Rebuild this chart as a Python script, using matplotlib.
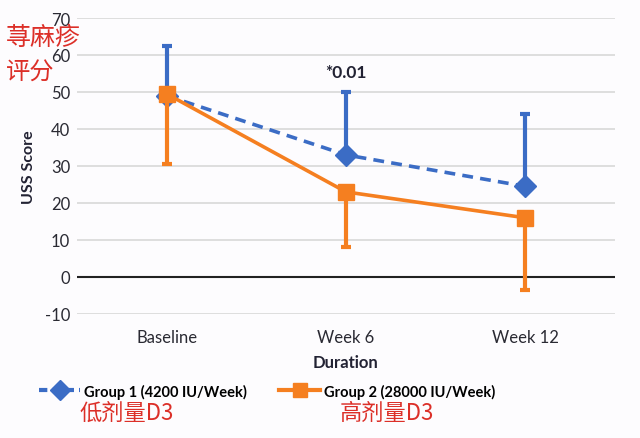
import matplotlib.pyplot as plt
from matplotlib.lines import Line2D

# data
durations = ['Baseline', 'Week 6', 'Week 12']
group1 = [49, 33, 24.5]
group1_upper = [62.5, 50, 44]
group2 = [49.5, 23, 16]
group2_lower = [30.5, 8, -3.5]
yticks = [-10, 0, 10, 20, 30, 40, 50, 60, 70]

blue = '#3b6cc5'
orange = '#f57f20'
red = '#dc2f28'
bg = '#fdfcfe'

plt.rcParams['font.family'] = ['Lato', 'DejaVu Sans']
plt.rcParams['axes.unicode_minus'] = False

fig = plt.figure(figsize=(6.4, 4.39), dpi=100, facecolor=bg)
ax = fig.add_axes([77 / 640, 1 - 315 / 439, (615 - 77) / 640, (315 - 19) / 439])
ax.set_facecolor(bg)

x = list(range(len(durations)))

# error bars: group 1 upward, group 2 downward
g1_err = [[0] * 3, [u - v for u, v in zip(group1_upper, group1)]]
g2_err = [[v - l for v, l in zip(group2, group2_lower)], [0] * 3]

ax.errorbar(x, group1, yerr=g1_err, fmt='none', ecolor=blue, elinewidth=3,
            capsize=3.5, capthick=3, zorder=3)
ax.plot(x, group1, color=blue, lw=2.6, ls=(0, (3, 2)), marker='D', ms=11,
        zorder=4)
ax.errorbar(x, group2, yerr=g2_err, fmt='none', ecolor=orange, elinewidth=3,
            capsize=3.5, capthick=3, zorder=5)
ax.plot(x, group2, color=orange, lw=2.6, marker='s', ms=12, zorder=6)

ax.set_xlim(-0.5, 2.5)
ax.set_ylim(-10, 70)
ax.set_yticks(yticks)
ax.set_xticks(x)
ax.set_xticklabels(durations)
ax.tick_params(length=0, labelsize=12, labelcolor='#2a2a33', pad=5)
ax.tick_params(axis='x', pad=11)
for s in ax.spines.values():
    s.set_visible(False)
ax.grid(axis='y', color='#d8d8d8', lw=1.2)
ax.set_axisbelow(True)
ax.axhline(0, color='#222222', lw=1.5, zorder=2)

ax.set_ylabel('USS Score', fontsize=11.5, fontweight='bold', color='#222233',
              labelpad=6)
ax.set_xlabel('Duration', fontsize=12, fontweight='bold', color='#222233',
              labelpad=6)

ax.text(1, 55.5, '*0.01', ha='center', va='center', fontsize=12.5,
        fontweight='bold', color='#222233')

# legend
handles = [
    Line2D([], [], color=blue, lw=3, ls=(0, (2, 1.2)), marker='D', ms=10),
    Line2D([], [], color=orange, lw=3, marker='s', ms=10.5),
]
fig.legend(handles, ['Group 1 (4200 IU/Week)', 'Group 2 (28000 IU/Week)'],
           loc='center left', bbox_to_anchor=(26 / 640, 1 - 392 / 439),
           ncol=2, frameon=False, handlelength=2.8, handletextpad=0.3,
           columnspacing=2.2, prop={'weight': 'bold', 'size': 10.5})

# red chinese annotations
cjk = ['Noto Sans CJK SC', 'DejaVu Sans']
fig.text(6 / 640, 1 - 38 / 439, '荨麻疹', family=cjk, color=red, fontsize=18,
         va='center', ha='left')
fig.text(6 / 640, 1 - 73 / 439, '评分', family=cjk, color=red, fontsize=17.5,
         va='center', ha='left')
fig.text(80 / 640, 1 - 413 / 439, '低剂量D3', family=cjk, color=red,
         fontsize=16, va='center', ha='left')
fig.text(340 / 640, 1 - 413 / 439, '高剂量D3', family=cjk, color=red,
         fontsize=16, va='center', ha='left')

fig.savefig('out.png', dpi=100, facecolor=bg)
